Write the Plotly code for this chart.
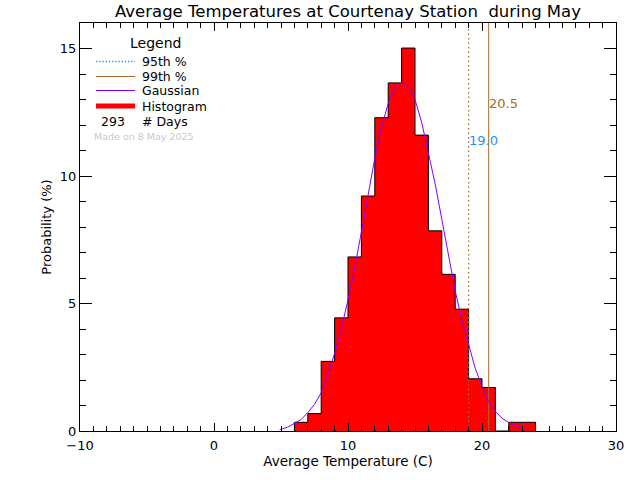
import plotly.graph_objects as go

title = "Average Temperatures at Courtenay Station  during May"
n_days = 293

# histogram: day counts per 1 degree bin, starting at 6 C
bin_edges = [6, 7, 8, 9, 10, 11, 12, 13, 14, 15, 16, 17, 18, 19, 20, 21, 22, 23, 24]
bin_counts = [1, 2, 8, 13, 20, 27, 36, 40, 44, 34, 23, 18, 14, 6, 5, 0, 1, 1]

# gaussian curve
gauss_x = [4.9, 5.5, 6, 6.5, 7, 7.5, 8, 8.5, 9, 9.5, 10, 10.5, 11, 11.5, 12, 12.5, 13, 13.5, 14,
           14.5, 15, 15.5, 16, 16.5, 17, 17.5, 18, 18.5, 19, 19.5, 20, 20.5, 21, 21.5, 22, 22.5, 23, 23.2]
gauss_y = [0.05, 0.15, 0.3, 0.45, 0.72, 1.05, 1.5, 2.2, 3.05, 4.0, 5.15, 6.4, 7.8, 9.3, 10.7, 11.9, 12.85, 13.45, 13.65,
           13.5, 13.0, 12.1, 10.95, 9.7, 8.3, 6.9, 5.5, 4.35, 3.4, 2.45, 1.75, 1.15, 0.76, 0.5, 0.33, 0.2, 0.13, 0.1]

pct_95 = 19.0
pct_99 = 20.5

BROWN = "#a86a2c"
BLUE = "#1e90ff"
PURPLE = "#8000ff"
FONT = "DejaVu Sans"

W, H = 640, 480
L, R, T, B = 80, 24, 23, 49


# the legend is hand drawn like the original, so place it in pixels
def px(x):
    return (x - L) / (W - L - R)


def py(y):
    return (H - B - y) / (H - T - B)


percent = [100 * c / n_days for c in bin_counts]
hist_x = [bin_edges[0]] + bin_edges
hist_y = [0] + percent + [0]

fig = go.Figure()
fig.add_trace(go.Scatter(x=hist_x, y=hist_y, mode="lines", line=dict(color="black", width=1, shape="hv"),
                         fill="tozeroy", fillcolor="#ff0000", showlegend=False))
fig.add_trace(go.Scatter(x=[pct_95, pct_95], y=[0, 16], mode="lines",
                         line=dict(color=BROWN, width=1.2, dash="1.5px,3px"), showlegend=False))
fig.add_trace(go.Scatter(x=[pct_99, pct_99], y=[0, 16], mode="lines",
                         line=dict(color=BROWN, width=1), showlegend=False))
fig.add_trace(go.Scatter(x=gauss_x, y=gauss_y, mode="lines", line=dict(color=PURPLE, width=1), showlegend=False))

fig.add_annotation(x=pct_95, y=11.41, text="19.0", showarrow=False, xanchor="left", xshift=-2,
                   font=dict(color=BLUE, size=13, family=FONT))
fig.add_annotation(x=pct_99, y=12.86, text="20.5", showarrow=False, xanchor="left", xshift=-2,
                   font=dict(color=BROWN, size=13, family=FONT))

# legend swatches
swatches = [(61.5, BLUE, 1.3, "1.3px,1.9px"), (76.5, BROWN, 1, "solid"), (90.5, PURPLE, 1, "solid"), (106, "#ff0000", 5, "solid")]
for y, color, width, dash in swatches:
    fig.add_shape(type="line", xref="paper", yref="paper", x0=px(96), x1=px(135), y0=py(y), y1=py(y),
                  line=dict(color=color, width=width, dash=dash))

labels = [(129, 43, "Legend", 14, "black"), (141, 61, "95th %", 12.5, "black"), (141, 76, "99th %", 12.5, "black"),
          (141, 91, "Gaussian", 12.5, "black"), (141, 106, "Histogram", 12.5, "black"),
          (100, 121, str(n_days), 12.5, "black"), (141, 121, "# Days", 12.5, "black"),
          (93, 136, "Made on 8 May 2025", 9.5, "#c8c8c8")]
for x, y, text, size, color in labels:
    fig.add_annotation(xref="paper", yref="paper", x=px(x), y=py(y), text=text, showarrow=False,
                       xanchor="left", yanchor="middle", borderpad=0, font=dict(size=size, color=color, family=FONT))

fig.update_xaxes(range=[-10, 30], tick0=-10, dtick=10, ticks="inside", ticklen=8, tickwidth=1, tickcolor="black",
                 minor=dict(dtick=1, ticks="inside", ticklen=5, tickwidth=1, tickcolor="black"),
                 showline=True, linecolor="black", linewidth=1, mirror="allticks", showgrid=False, zeroline=False,
                 layer="above traces", ticklabelstandoff=2, tickfont=dict(size=13, family=FONT, color="black"),
                 title=dict(text="Average Temperature (C)", standoff=4, font=dict(size=13.5, family=FONT, color="black")))
fig.update_yaxes(range=[0, 16], tick0=0, dtick=5, ticks="inside", ticklen=12, tickwidth=1, tickcolor="black",
                 minor=dict(dtick=1, ticks="inside", ticklen=6, tickwidth=1, tickcolor="black"),
                 showline=True, linecolor="black", linewidth=1, mirror="allticks", showgrid=False, zeroline=False,
                 layer="above traces", tickfont=dict(size=13, family=FONT, color="black"),
                 title=dict(text="Probability (%)", standoff=5, font=dict(size=13, family=FONT, color="black")))
fig.update_layout(width=W, height=H, margin=dict(l=L, r=R, t=T, b=B, autoexpand=False),
                  plot_bgcolor="white", paper_bgcolor="white",
                  title=dict(text=title, x=348 / W, xanchor="center", y=1 - 11 / H, yanchor="middle",
                             font=dict(size=16.5, family=FONT, color="black")))

fig.write_html("out.html", config=dict(displayModeBar=False), post_script="document.body.style.margin='0';")
